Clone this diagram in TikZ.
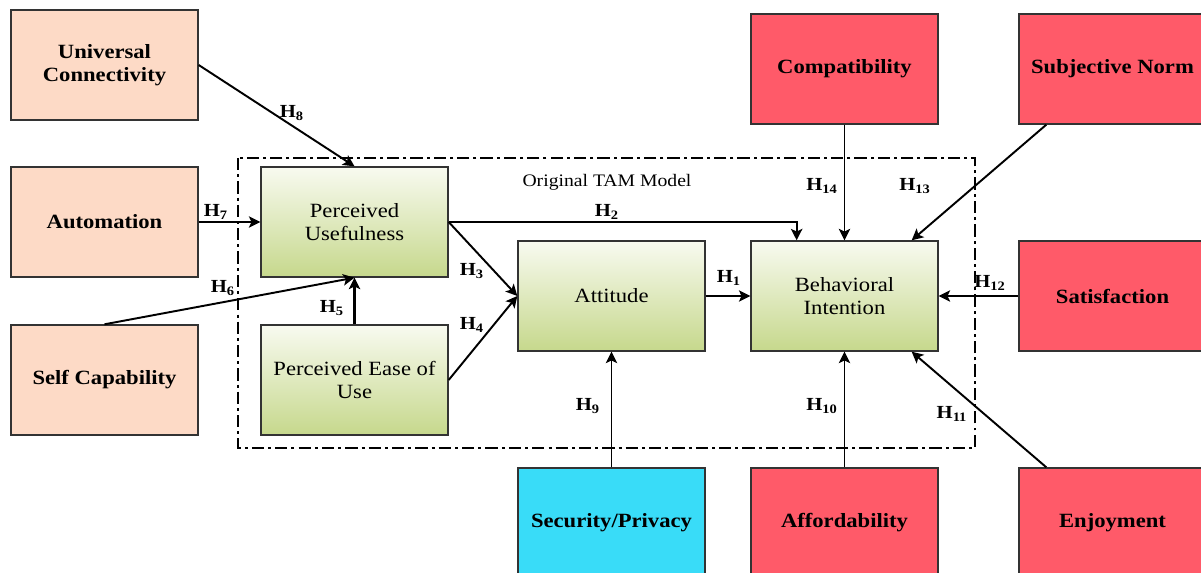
\documentclass[tikz,border=0pt]{standalone}
\usepackage{fontspec}
\setmainfont[FakeStretch=1.12]{Liberation Serif}
\usetikzlibrary{calc,arrows.meta}

\definecolor{peach}{HTML}{FDDAC6}
\definecolor{rose}{HTML}{FF5A69}
\definecolor{aqua}{HTML}{39DCF8}
\definecolor{leaftop}{HTML}{F8FAF0}
\definecolor{leafbot}{HTML}{C6D88C}

\tikzset{
	box/.style={draw=black!80, line width=0.8pt, minimum width=3.74cm, minimum height=2.2cm, align=center, inner sep=2pt, font=\fontsize{11.5}{13}\selectfont},
	outer/.style={box, font=\fontsize{11.5}{13}\selectfont\bfseries},
	tam/.style={box, top color=leaftop, bottom color=leafbot},
	hyp/.style={-{Stealth[length=6.5pt,width=6.5pt,inset=1.5pt]}, line width=1.1pt},
	hlab/.style={font=\fontsize{10.5}{12}\selectfont\bfseries, inner sep=0pt},
}

\begin{document}
\begin{tikzpicture}[x=0.02cm, y=-0.02cm]
			%%%%% START %%%%%
			\useasboundingbox (0, 0) rectangle (1201, 573);
			
			% original TAM frame
			\draw[line width=0.6pt, dash pattern=on 7pt off 2.3pt on 1.7pt off 2.3pt] (238, 158) rectangle (975, 448);
			\node[font=\fontsize{10}{12}\selectfont] (tamtitle) at (607, 182) {Original TAM Model};
			
			% external factors
			\node[outer, fill=peach] (uc) at (104.5, 65) {Universal\\Connectivity};
			\node[outer, fill=peach] (auto) at (104.5, 222) {Automation};
			\node[outer, fill=peach] (selfcap) at (104.5, 380) {Self Capability};
			
			\node[outer, fill=rose] (compat) at (844.5, 69) {Compatibility};
			\node[outer, fill=rose] (subj) at (1112.5, 69) {Subjective Norm};
			\node[outer, fill=rose] (satis) at (1112.5, 296) {Satisfaction};
			\node[outer, fill=aqua] (secur) at (611.5, 523) {Security/Privacy};
			\node[outer, fill=rose] (afford) at (844.5, 523) {Affordability};
			\node[outer, fill=rose] (enjoy) at (1112.5, 523) {Enjoyment};
			
			% TAM constructs
			\node[tam] (pu) at (354.5, 222) {Perceived\\Usefulness};
			\node[tam] (peou) at (354.5, 380) {Perceived Ease of\\Use};
			\node[tam] (att) at (611.5, 296) {Attitude};
			\node[tam] (bi) at (844.5, 296) {Behavioral\\Intention};
			
			% hypotheses
			\coordinate (h2end) at ($(bi.north west)!0.246!(bi.north east)$);
			\draw[hyp, line width=0.6pt] (att.east) -- (bi.west);
			\draw[hyp] (pu.east) -| (h2end);
			\draw[hyp] (pu.east) -- (att.west);
			\draw[hyp] (peou.east) -- (att.west);
			\draw[hyp, line width=1.6pt] (peou.north) -- (pu.south);
			\draw[hyp] (selfcap.north) -- (pu.south);
			\draw[hyp] (auto.east) -- (pu.west);
			\draw[hyp] (uc.east) -- (pu.north);
			\draw[hyp] (secur.north) -- (att.south);
			\draw[hyp] (afford.north) -- (bi.south);
			\draw[hyp] ($(enjoy.north west)+(28, 0)$) -- ($(bi.south east)+(-27, 0)$);
			\draw[hyp] (satis.west) -- (bi.east);
			\draw[hyp] ($(subj.south west)+(28, 0)$) -- ($(bi.north east)+(-27, 0)$);
			\draw[hyp] (compat.south) -- (bi.north);
			
			\node[hlab] (h1) at (729, 278) {H\textsubscript{1}};
			\node[hlab] (h2) at (607, 212) {H\textsubscript{2}};
			\node[hlab] (h3) at (472, 271) {H\textsubscript{3}};
			\node[hlab] (h4) at (472, 325) {H\textsubscript{4}};
			\node[hlab] (h5) at (332, 308) {H\textsubscript{5}};
			\node[hlab] (h6) at (223, 288) {H\textsubscript{6}};
			\node[hlab] (h7) at (216, 212) {H\textsubscript{7}};
			\node[hlab] (h8) at (292, 113) {H\textsubscript{8}};
			\node[hlab] (h9) at (588, 406) {H\textsubscript{9}};
			\node[hlab] (h10) at (822, 406) {H\textsubscript{10}};
			\node[hlab] (h11) at (952, 414) {H\textsubscript{11}};
			\node[hlab] (h12) at (990, 283) {H\textsubscript{12}};
			\node[hlab] (h13) at (915, 186) {H\textsubscript{13}};
			\node[hlab] (h14) at (822, 186) {H\textsubscript{14}};
			
			%%%%% END %%%%%
\end{tikzpicture}
\end{document}
